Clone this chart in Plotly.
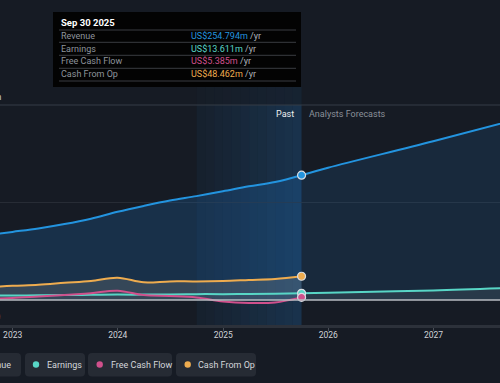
import plotly.graph_objects as go
import pandas as pd

# ---------------- data ----------------
past_dates = ["2022-09-30", "2022-12-31", "2023-03-31", "2023-06-30", "2023-09-30",
              "2023-12-31", "2024-03-31", "2024-06-30", "2024-09-30", "2024-12-31",
              "2025-03-31", "2025-06-30", "2025-09-30"]
revenue_past = [132, 139, 146, 155, 166, 180, 192, 203, 212, 222, 232, 241, 254.794]
earnings_past = [9, 9, 9.5, 10, 10.5, 11, 11, 11.5, 12, 12, 12.5, 13, 13.611]
fcf_past = [2, 4, 7, 10, 14, 19, 10, 8, 5, -3, -6, -5, 5.385]
cfo_past = [26, 29, 31, 35, 39, 45.5, 36, 38, 38, 39, 41, 43, 48.462]

fc_dates = ["2025-09-30", "2025-12-31", "2026-12-31", "2027-12-31"]
revenue_fc = [254.794, 270, 324, 380]
earnings_fc = [13.611, 15, 19.5, 27]

year_ticks = ["2023-01-01", "2024-01-01", "2025-01-01", "2026-01-01", "2027-01-01"]
year_labels = ["2023", "2024", "2025", "2026", "2027"]

series_names = ["Revenue", "Earnings", "Free Cash Flow", "Cash From Op"]
series_colors = ["#2394df", "#58d6c6", "#d0508c", "#eeac4f"]
tooltip_date = "Sep 30 2025"
tooltip_values = ["US$254.794m", "US$13.611m", "US$5.385m", "US$48.462m"]
band_start = "2024-10-01"

W, H = 500, 383
BG = "#161b24"
FONT = "Roboto, sans-serif"


def px(x):
    return x / W


def py(y):
    return (H - y) / H


fig = go.Figure()

fig.add_trace(go.Scatter(x=fc_dates, y=revenue_fc, mode="lines", line=dict(color=series_colors[0], width=2, shape="spline"),
                         fill="tozeroy", fillcolor="rgba(35,100,160,0.20)", hoverinfo="skip", showlegend=False))
fig.add_trace(go.Scatter(x=past_dates, y=revenue_past, mode="lines", line=dict(color=series_colors[0], width=2, shape="spline"),
                         fill="tozeroy", fillcolor="rgba(30,110,180,0.26)", hoverinfo="skip", showlegend=False))
fig.add_trace(go.Scatter(x=fc_dates, y=earnings_fc, mode="lines", line=dict(color=series_colors[1], width=2, shape="spline"),
                         fill="tozeroy", fillcolor="rgba(160,170,170,0.12)", hoverinfo="skip", showlegend=False))
fig.add_trace(go.Scatter(x=past_dates, y=cfo_past, mode="lines", line=dict(color=series_colors[3], width=2, shape="spline"),
                         fill="tozeroy", fillcolor="rgba(190,180,160,0.18)", hoverinfo="skip", showlegend=False))
fig.add_trace(go.Scatter(x=past_dates, y=earnings_past, mode="lines", line=dict(color=series_colors[1], width=2, shape="spline"),
                         hoverinfo="skip", showlegend=False))
fig.add_trace(go.Scatter(x=past_dates, y=fcf_past, mode="lines", line=dict(color=series_colors[2], width=2, shape="spline"),
                         hoverinfo="skip", showlegend=False))

last_vals = [revenue_past[-1], earnings_past[-1], fcf_past[-1], cfo_past[-1]]
for v, c in zip(last_vals, series_colors):
    fig.add_trace(go.Scatter(x=[past_dates[-1]], y=[v], mode="markers",
                             marker=dict(color=c, size=8, line=dict(color="#d8dde3", width=1.2)),
                             hoverinfo="skip", showlegend=False))

plot_bottom, plot_top = py(325), py(105)

shapes = []
t0 = pd.Timestamp(band_start)
t1 = pd.Timestamp(past_dates[-1])
n = 12
for i in range(n):
    a = t0 + (t1 - t0) * i / n
    b = t0 + (t1 - t0) * (i + 1) / n
    op = 0.06 + 0.22 * (i + 0.5) / n
    shapes.append(dict(type="rect", xref="x", yref="paper", x0=a, x1=b,
                       y0=plot_bottom, y1=plot_top, fillcolor=f"rgba(35,115,185,{op:.3f})", line_width=0, layer="below"))
    shapes.append(dict(type="rect", xref="x", yref="paper", x0=a, x1=b,
                       y0=plot_top, y1=py(87), fillcolor=f"rgba(35,115,185,{op*0.35:.3f})", line_width=0, layer="below"))
shapes.append(dict(type="line", xref="paper", yref="paper", x0=0, x1=1, y0=plot_top, y1=plot_top,
                   line=dict(color="#353c47", width=1), layer="below"))
shapes.append(dict(type="line", xref="paper", yref="y", x0=0, x1=1, y0=0, y1=0,
                   line=dict(color="#b8bcc2", width=1.3), layer="above"))

annotations = []
annotations.append(dict(xref="paper", yref="paper", x=px(2.5), y=py(97), text="US$400m", showarrow=False,
                        xanchor="right", yanchor="middle", font=dict(size=9, color="#c9ccd1")))
annotations.append(dict(xref="paper", yref="paper", x=px(2), y=py(317), text="US$0", showarrow=False,
                        xanchor="right", yanchor="middle", font=dict(size=9, color="#c9ccd1")))
annotations.append(dict(xref="paper", yref="paper", x=px(295.5), y=py(114), text="Past", showarrow=False,
                        xanchor="right", yanchor="middle", font=dict(size=9, color="#eceef0")))
annotations.append(dict(xref="paper", yref="paper", x=px(306.5), y=py(114), text="Analysts Forecasts", showarrow=False,
                        xanchor="left", yanchor="middle", font=dict(size=9, color="#8a9099")))

shapes.append(dict(type="rect", xref="paper", yref="paper", x0=px(53), x1=px(301), y0=py(87), y1=py(12),
                   fillcolor="#030303", line_width=0, layer="above"))
for sy in [30, 42.3, 55.3, 68.3, 81]:
    shapes.append(dict(type="line", xref="paper", yref="paper", x0=px(59), x1=px(296), y0=py(sy), y1=py(sy),
                       line=dict(color="#3a3d42", width=1), layer="above"))
annotations.append(dict(xref="paper", yref="paper", x=px(58.5), y=py(23), text="<b>" + tooltip_date + "</b>",
                        showarrow=False, xanchor="left", yanchor="middle", font=dict(size=9.5, color="#ffffff")))
row_y = [36, 48.5, 61.3, 74]
for name, val, c, ry in zip(series_names, tooltip_values, series_colors, row_y):
    annotations.append(dict(xref="paper", yref="paper", x=px(58.5), y=py(ry), text=name, showarrow=False,
                            xanchor="left", yanchor="middle", font=dict(size=9, color="#8e949c")))
    annotations.append(dict(xref="paper", yref="paper", x=px(188.5), y=py(ry),
                            text=f'<span style="color:{c}">{val}</span><span style="color:#b0b4ba"> /yr</span>',
                            showarrow=False, xanchor="left", yanchor="middle", font=dict(size=9)))


def rrect(x0, y0, x1, y1, r=4):
    X = px
    Y = py
    return (f"M {X(x0+r)},{Y(y0)} L {X(x1-r)},{Y(y0)} Q {X(x1)},{Y(y0)} {X(x1)},{Y(y0+r)} "
            f"L {X(x1)},{Y(y1-r)} Q {X(x1)},{Y(y1)} {X(x1-r)},{Y(y1)} L {X(x0+r)},{Y(y1)} "
            f"Q {X(x0)},{Y(y1)} {X(x0)},{Y(y1-r)} L {X(x0)},{Y(y0+r)} Q {X(x0)},{Y(y0)} {X(x0+r)},{Y(y0)} Z")


legend_boxes = [(-50, 21), (25, 85), (88, 172), (176, 256)]
legend_dot_x = [-36, 36, 99.7, 187.7]
legend_text_x = [-25.5, 44.5, 108.5, 196]
for (bx0, bx1), dx, tx, name, c in zip(legend_boxes, legend_dot_x, legend_text_x, series_names, series_colors):
    shapes.append(dict(type="path", xref="paper", yref="paper", path=rrect(bx0, 353, bx1, 376.5),
                       fillcolor="#262b34", line_width=0, layer="above"))
    shapes.append(dict(type="circle", xref="paper", yref="paper", x0=px(dx - 3.2), x1=px(dx + 3.2),
                       y0=py(364.5 + 3.2), y1=py(364.5 - 3.2), fillcolor=c, line_width=0, layer="above"))
    annotations.append(dict(xref="paper", yref="paper", x=px(tx), y=py(364.5), text=name, showarrow=False,
                            xanchor="left", yanchor="middle", font=dict(size=9, color="#d4d7db")))

fig.update_layout(
    width=W, height=H, autosize=False,
    margin=dict(l=0, r=0, t=0, b=0),
    paper_bgcolor=BG, plot_bgcolor=BG,
    font=dict(family=FONT, color="#d0d3d8"),
    shapes=shapes, annotations=annotations,
    showlegend=False,
    xaxis=dict(type="date", range=["2022-11-18", "2027-08-20"], domain=[0, 1],
               tickvals=year_ticks, ticktext=year_labels, showgrid=False, zeroline=False,
               showline=True, linecolor="#2c313a", linewidth=3, ticks="outside", ticklen=3,
               tickcolor="#4a4f58", tickwidth=1, tickfont=dict(size=8.5, color="#d0d3d8"),
               ticklabelstandoff=-3),
    yaxis=dict(range=[-51, 398], domain=[plot_bottom, plot_top], tickvals=[200],
               showticklabels=False, showgrid=True, gridcolor="#272c35", gridwidth=1,
               zeroline=False, showline=False, fixedrange=True),
)

fig.write_html("out.html", config={"displayModeBar": False, "staticPlot": True},
               post_script="document.body.style.margin='0';document.body.style.background='%s';" % BG)
